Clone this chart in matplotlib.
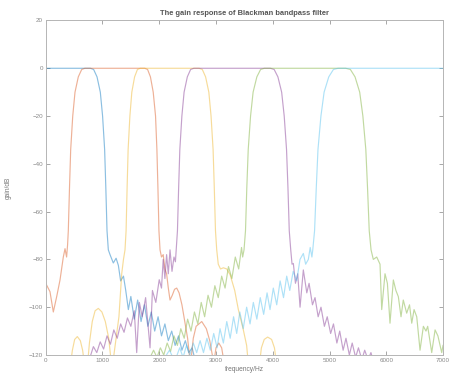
import matplotlib
matplotlib.use("Agg")
import matplotlib.pyplot as plt

# ---- data (frequency in Hz, gain in dB) ----
blue_f = [0, 788, 844, 904, 962, 1002, 1038, 1059, 1080, 1103, 1133, 1191, 1240, 1280, 1320, 1370,
          1410, 1456, 1500, 1560, 1620, 1680, 1740, 1800, 1860, 1920, 1980, 2040, 2100, 2160, 2220,
          2280, 2340, 2400, 2460, 2520, 2580, 2640]
blue_db = [0, 0, -0.5, -3.6, -10, -20, -34, -50, -68, -76, -78, -81.5, -79.5, -82.5, -89, -87,
           -93, -101, -95.5, -105, -97, -106, -99, -108, -102, -110, -104, -112, -107, -114, -110,
           -116, -112, -118, -114, -119, -117, -123]

orange_f = [0, 75, 134, 193, 252, 310, 340, 368, 385, 398, 419, 440, 476, 516, 574, 634, 690,
            1746, 1795, 1845, 1894, 1935, 1959, 1977, 1995, 2014, 2040, 2070, 2100, 2130, 2160,
            2190, 2230, 2270, 2308, 2350, 2400, 2450, 2500, 2540, 2560, 2600, 2650, 2749, 2830,
            2890, 2950, 2970, 3000, 3050, 3100, 3135]
orange_db = [-90, -93.5, -102, -95.6, -88.6, -79, -75.5, -79, -74, -68, -50, -34, -20, -10, -3.6,
             -0.5, 0, 0, -0.5, -3.6, -10, -20, -34, -50, -68, -76, -79, -78, -84, -86, -92,
             -97, -95, -92.5, -92, -94, -99, -106, -113, -122, -122, -113, -108, -106, -109,
             -114, -122, -122, -117, -115, -117, -122]

yellow_f = [430, 470, 510, 557, 610, 650, 690, 733, 770, 820, 870, 927, 990, 1050, 1110, 1163,
            1190, 1240, 1290, 1339, 1370, 1397, 1416, 1434, 1452, 1483, 1517, 1566, 1616, 1665,
            2702, 2759, 2817, 2874, 2913, 2949, 2970, 2991, 3013, 3040, 3080, 3130, 3190, 3250,
            3330, 3394, 3482, 3540, 3575, 3760, 3800, 3850, 3910, 3980, 4030, 4075]
yellow_db = [-125, -118, -113.5, -112.3, -114, -118, -125, -125, -115, -106, -101.5, -100.5, -102,
             -106, -113, -125, -122, -113, -104, -86, -80, -76, -68, -50, -34, -20, -10, -3.6,
             -0.5, 0, 0, -0.5, -3.6, -10, -20, -34, -50, -68, -76, -82, -84, -83.5, -84, -86.5,
             -93, -101, -109.5, -116, -125, -125, -117, -113.5, -112.5, -113.5, -117, -125]

purple_f = [780, 840, 900, 960, 1020, 1080, 1140, 1200, 1260, 1320, 1380, 1440, 1500, 1560, 1603,
            1650, 1700, 1760, 1838, 1880, 1940, 2000, 2040, 2070, 2100, 2130, 2160, 2190, 2225,
            2260, 2285, 2299, 2321, 2342, 2363, 2399, 2438, 2495, 2553, 2610,
            3959, 4025, 4091, 4157, 4202, 4243, 4268, 4291, 4317, 4340, 4363, 4400, 4440, 4481,
            4539, 4600, 4640, 4700, 4745, 4800, 4850, 4910, 4960, 5020, 5070, 5130, 5180, 5240,
            5290, 5350, 5400, 5460, 5510, 5570, 5620, 5680, 5730, 5790]
purple_db = [-121, -116.5, -119, -114.5, -117.5, -112, -115.5, -109.5, -113, -107, -110.5, -104.5,
             -108, -101.5, -119, -98, -104, -96, -117, -93, -98, -88.5, -92, -80, -88, -78, -86,
             -76, -85, -79, -81, -76, -68, -50, -34, -20, -10, -3.6, -0.5, 0,
             0, -0.5, -3.6, -10, -20, -34, -50, -68, -76, -82, -81.7, -90, -86, -100,
             -84.4, -94, -90, -99, -96, -104, -100, -108, -104, -111, -107, -115, -110, -118,
             -113, -120, -115, -121, -117, -122, -118, -122, -119, -124]

green_f = [1840, 1900, 1960, 2020, 2080, 2140, 2200, 2260, 2320, 2380, 2440, 2500, 2560, 2620,
           2680, 2740, 2800, 2860, 2920, 2980, 3040, 3100, 3160, 3220, 3280, 3340, 3400, 3450,
           3470, 3494, 3520, 3543, 3568, 3609, 3654, 3720, 3786, 3852,
           5286, 5368, 5450, 5532, 5588, 5640, 5670, 5700, 5732, 5772, 5832, 5890, 5920, 5978,
           6020, 6066, 6125, 6170, 6213, 6260, 6300, 6360, 6410, 6449, 6490, 6537, 6595, 6654,
           6700, 6730, 6801, 6860, 6910, 6977, 7000]
green_db = [-121, -118, -121, -117, -120, -115, -118.5, -112, -116, -109, -113, -105, -110, -102,
            -107, -98, -104, -95, -100, -91, -96, -87, -92, -83, -88, -79, -84, -75,
            -79, -76, -68, -50, -34, -20, -10, -3.6, -0.5, 0,
            0, -0.5, -3.6, -10, -20, -34, -50, -68, -76, -80, -79, -82, -101, -86,
            -90, -106.7, -88.6, -93, -95.6, -104, -97, -102.5, -99, -106.7, -101, -104, -118, -108,
            -110, -108, -119, -109.5, -112, -119, -116]

cyan_f = [2100, 2180, 2240, 2300, 2360, 2420, 2480, 2540, 2600, 2660, 2720, 2780, 2840, 2900,
          2960, 3020, 3071, 3130, 3190, 3250, 3310, 3365, 3420, 3480, 3540, 3600, 3658, 3720,
          3780, 3840, 3900, 3952, 4010, 4070, 4130, 4190, 4246, 4300, 4360, 4422, 4480, 4539,
          4580, 4627, 4660, 4690, 4705, 4737, 4767, 4797, 4849, 4905, 4987, 5069, 5151, 7000]
cyan_db = [-121, -118, -121, -121, -117, -121, -116, -120, -115, -119, -114, -119, -113, -118,
           -111, -117, -109, -115, -106, -113, -104, -111, -102, -109, -100, -107, -98, -105,
           -96, -103, -94, -101, -92, -99, -89, -96, -87, -93, -85, -89, -80, -77.5,
           -82, -80, -75, -79, -76, -68, -50, -34, -20, -10, -3.6, -0.5, 0, 0]

series = [(blue_f, blue_db, "#0072BD"), (orange_f, orange_db, "#D95319"),
          (yellow_f, yellow_db, "#EDB120"), (purple_f, purple_db, "#7E2F8E"),
          (green_f, green_db, "#77AC30"), (cyan_f, cyan_db, "#4DBEEE")]

x_ticks = [0, 1000, 2000, 3000, 4000, 5000, 6000, 7000]
y_ticks = [-120, -100, -80, -60, -40, -20, 0, 20]

plt.rcParams['font.family'] = ['Liberation Sans', 'DejaVu Sans']
fig = plt.figure(figsize=(4.54, 3.76), dpi=100)
ax = fig.add_axes([0.1007, 0.0559, 0.8751, 0.8896])

for f, db, c in series:
    ax.plot(f, db, color=c, lw=0.85, alpha=0.45, solid_joinstyle='round')

ax.set_xlim(0, 7000)
ax.set_ylim(-120, 20)
ax.set_xticks(x_ticks)
ax.set_yticks(y_ticks)
ax.tick_params(direction='in', length=3, width=0.6, colors='#999999', labelcolor='#888888',
               labelsize=4.5, top=True, right=True, pad=2)
for s in ax.spines.values():
    s.set_color('#b5b5b5')
    s.set_linewidth(0.7)

ax.set_title("The gain response of Blackman bandpass filter", fontsize=5.4, fontweight='bold',
             color='#555555', pad=4)
ax.set_xlabel("frequency/Hz", fontsize=4.8, color='#777777', labelpad=2)
ax.set_ylabel("gain/dB", fontsize=4.8, color='#777777', labelpad=12)

fig.savefig("out.png", dpi=100)
